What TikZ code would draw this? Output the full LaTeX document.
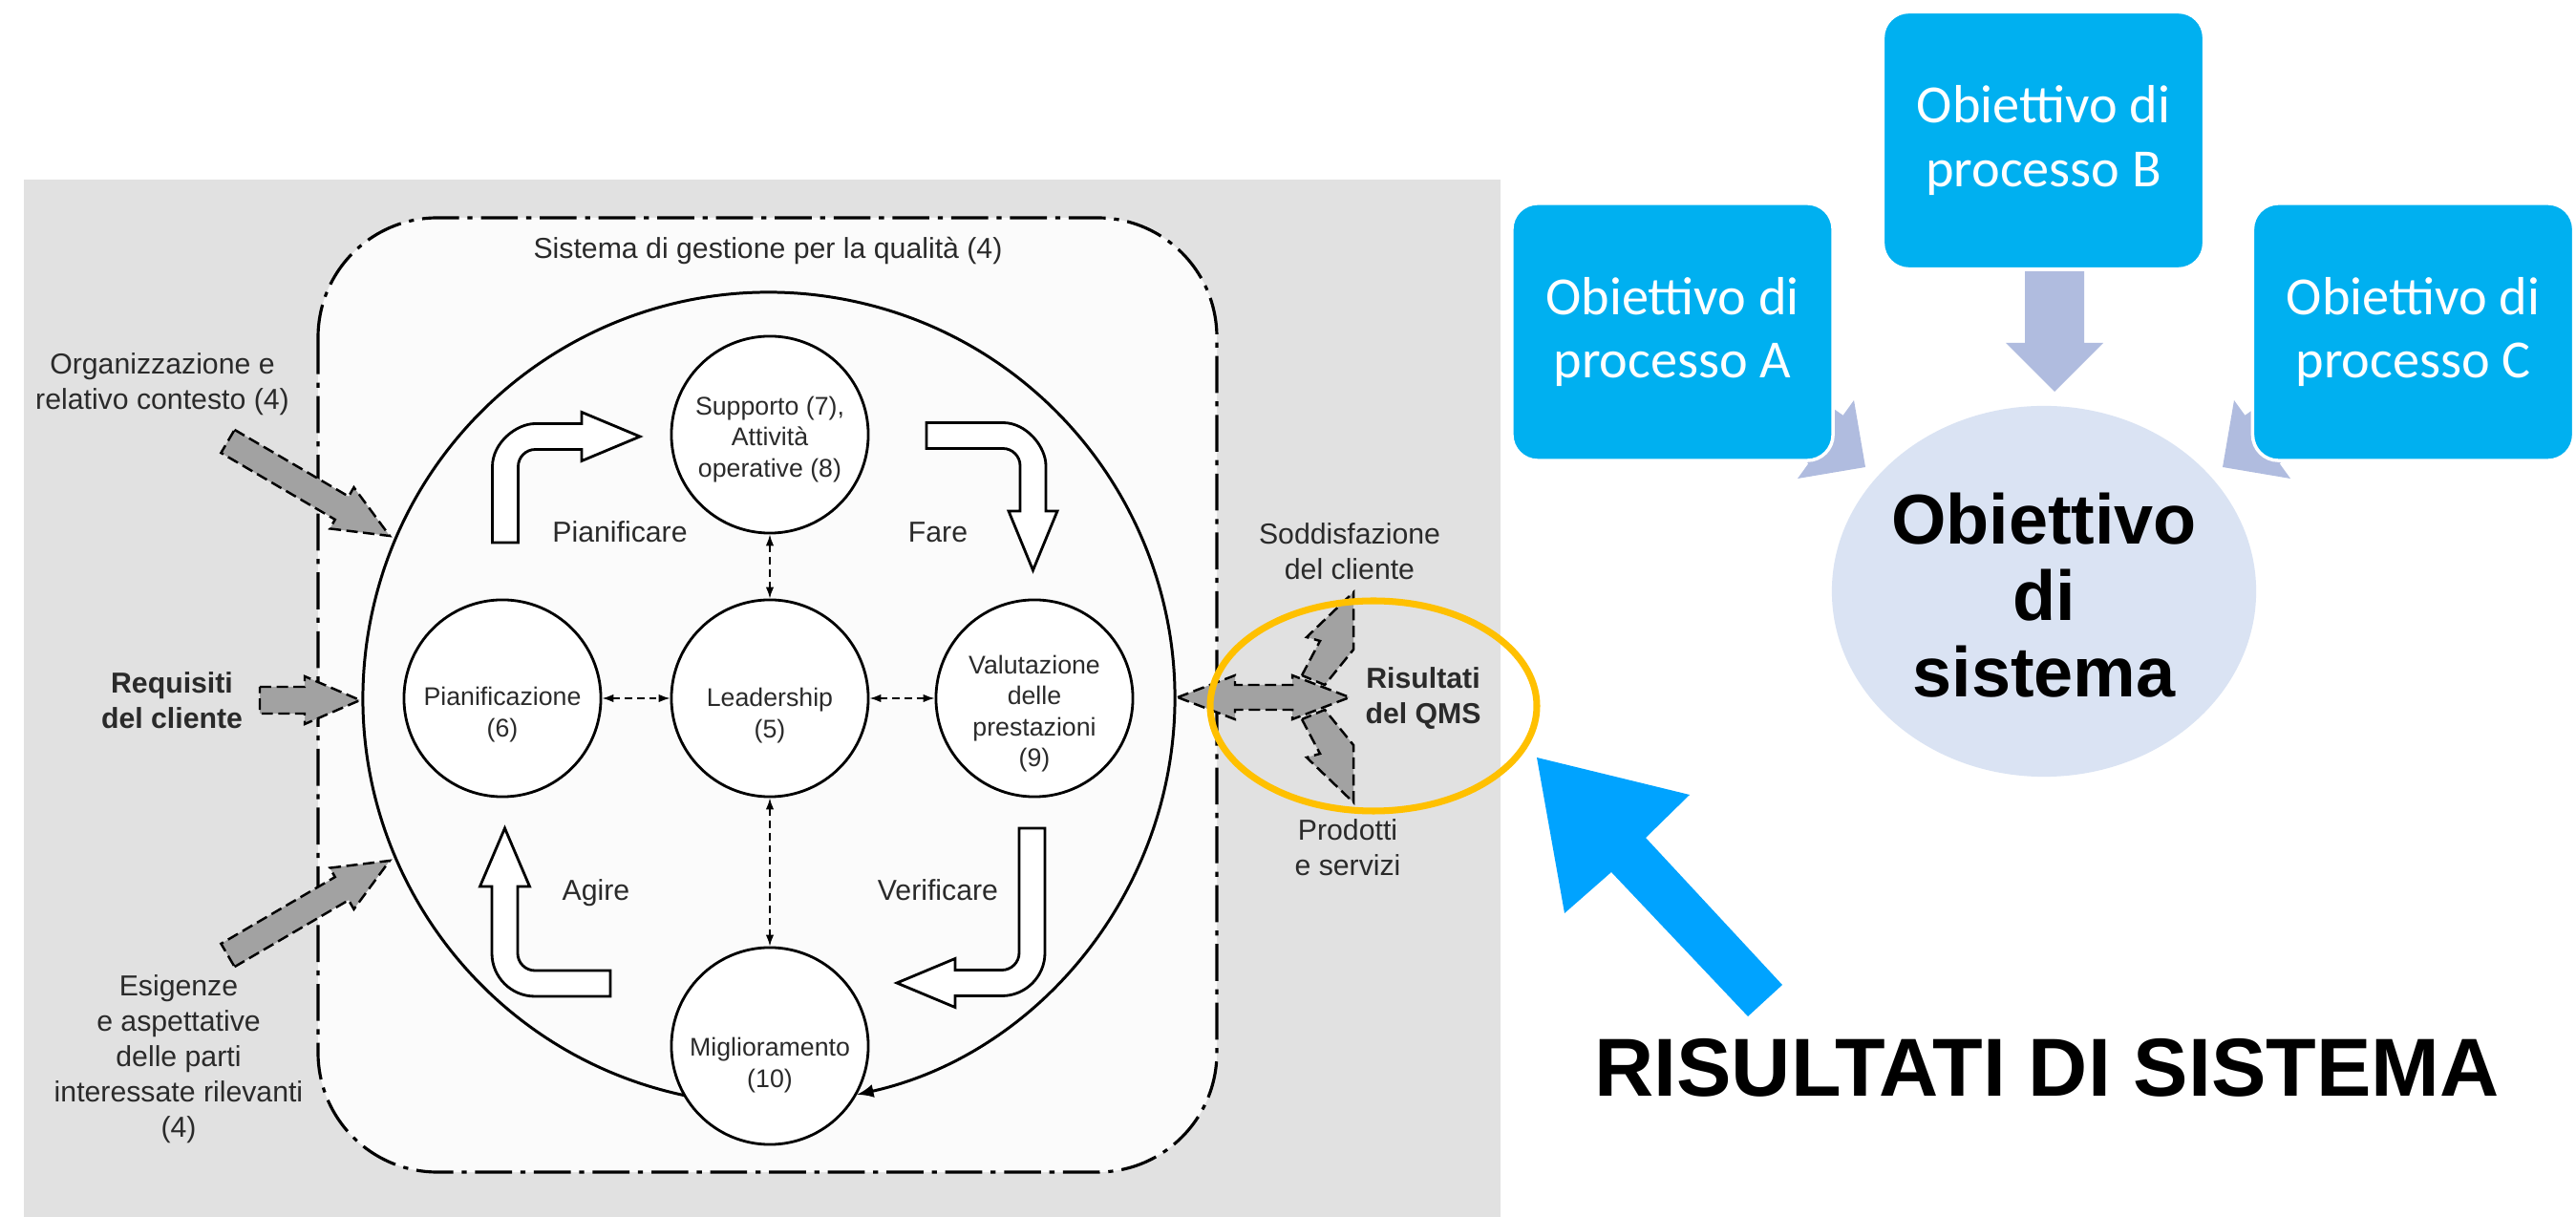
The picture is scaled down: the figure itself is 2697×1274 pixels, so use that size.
\documentclass[tikz,border=0pt]{standalone}
\usepackage{fontspec}
\setmainfont{Liberation Sans}
\newfontfamily\calib{Carlito}
\usetikzlibrary{shapes.geometric,arrows.meta,calc}
\definecolor{bggray}{HTML}{E1E1E1}
\definecolor{inwhite}{HTML}{FBFBFB}
\definecolor{arrgray}{HTML}{A2A2A2}
\definecolor{txt}{HTML}{2A2A2A}
\definecolor{gold}{HTML}{FFC000}
\definecolor{boxblue}{HTML}{00B0F0}
\definecolor{lav}{HTML}{B0BCDF}
\definecolor{lavlight}{HTML}{DAE3F3}
\definecolor{bigblue}{RGB}{0,163,255}
\begin{document}
\begin{tikzpicture}[x=0.01cm,y=-0.01cm,
  circ/.style={circle,draw=black,line width=0.8pt,fill=white,minimum size=2.06cm,inner sep=0pt},
  ctext/.style={align=center,font=\fontsize{7.6}{9.25}\selectfont,text=txt,inner sep=0pt},
  lbl/.style={align=center,font=\fontsize{8.6}{10.5}\selectfont,text=txt,inner sep=0pt},
  blbl/.style={align=center,font=\fontsize{8.6}{10.5}\selectfont\bfseries,text=txt,inner sep=0pt},
  bent/.style={draw=black,line width=0.8pt,fill=white,line join=miter},
  garrow/.style={draw=black,line width=0.7pt,dash pattern=on 3.4pt off 1.6pt,fill=arrgray,line join=miter},
  dconn/.style={{Latex[length=3.4pt,width=2.4pt]}-{Latex[length=3.4pt,width=2.4pt]},dash pattern=on 2.2pt off 1.4pt,line width=0.45pt},
  obox/.style={rounded corners=0.27cm,fill=boxblue,draw=white,line width=1pt,minimum width=3.36cm,minimum height=2.69cm,align=center,text=white,font=\calib\fontsize{16}{18.8}\selectfont,inner sep=0pt}
]
\useasboundingbox (0,0) rectangle (2697,1274);
% ---------------- left scanned diagram ----------------
\fill[bggray] (25,188) rectangle (1571,1274);
\draw[line width=0.9pt,dash pattern=on 11pt off 2.5pt on 1.5pt off 2.5pt,rounded corners=1.25cm,fill=inwhite] (333,228) rectangle (1274,1227);
\node[lbl] (title) at (804,263) {Sistema di gestione per la qualità (4)};
% big cycle circle
\draw[line width=0.85pt,-{Latex[length=5pt,width=4pt]}] ($(805,731)+(102:425)$) arc[start angle=102,end angle=437.5,radius=425];
% inner circles
\node[circ] (supp) at (806,455) {};
\node[circ] (pian) at (526,731) {};
\node[circ] (lead) at (806,731) {};
\node[circ] (valu) at (1083,731) {};
\node[circ] (migl) at (806,1095) {};
\node[ctext] (suppt) at (806,460) {Supporto (7),\\Attività\\operative (8)};
\node[ctext] (piant) at (526,748) {Pianificazione\\(6)};
\node[ctext] (leadt) at (806,749) {Leadership\\(5)};
\node[ctext] (valut) at (1083,747) {Valutazione\\delle\\prestazioni\\(9)};
\node[ctext] (miglt) at (806,1115) {Miglioramento\\(10)};
% dashed connectors
\draw[dconn] (pian) -- (lead);
\draw[dconn] (lead) -- (valu);
\draw[dconn] (supp) -- (lead);
\draw[dconn] (lead) -- (migl);
% bent outline arrows
\draw[bent] (515.5,568) -- (515.5,488.5) .. controls (515.5,463.7) and (540.3,443.5) .. (560.5,443.5) -- (609,443.5) -- (609,431.5) -- (670,457) -- (609,482.5) -- (609,470.5) -- (560.5,470.5) .. controls (550.6,470.5) and (542.5,478.4) .. (542.5,488.5) -- (542.5,568) -- cycle;
\draw[bent] (970,442.5) -- (1050,442.5) .. controls (1074.8,442.5) and (1095,467.7) .. (1095,487.5) -- (1095,535) -- (1107,535) -- (1081.5,597) -- (1056,535) -- (1068,535) -- (1068,487.5) .. controls (1068,477.6) and (1059.9,469.5) .. (1050,469.5) -- (970,469.5) -- cycle;
\draw[bent] (515,928) -- (515,998) .. controls (515,1022.8) and (535.2,1043) .. (560,1043) -- (639,1043) -- (639,1016) -- (560,1016) .. controls (550.1,1016) and (542,1007.9) .. (542,998) -- (542,928) -- (554.5,928) -- (528.5,867) -- (502.5,928) -- cycle;
\draw[bent] (1094,867) -- (1094,997.5) .. controls (1094,1022.3) and (1073.8,1042.5) .. (1049,1042.5) -- (1000,1042.5) -- (1000,1054.5) -- (939,1029) -- (1000,1003.5) -- (1000,1015.5) -- (1049,1015.5) .. controls (1058.9,1015.5) and (1067,1007.4) .. (1067,997.5) -- (1067,867) -- cycle;
\node[lbl] (lpian) at (649,557) {Pianificare};
\node[lbl] (lfare) at (982,557) {Fare};
\node[lbl] (lagire) at (624,935) {Agire};
\node[lbl] (lverif) at (982,932) {Verificare};
% left inputs
\draw[garrow] (245.6,449.9) -- (365.0,519.7) -- (370.5,510.2) -- (408,561) -- (345.3,553.4) -- (350.8,543.9) -- (231.4,474.1) -- cycle;
\draw[garrow] (272,719) -- (319,719) -- (319,708) -- (377,733) -- (319,758) -- (319,747) -- (272,747) -- cycle;
\draw[garrow] (245.6,1012.1) -- (365.0,942.3) -- (370.5,951.8) -- (408,901) -- (345.3,908.6) -- (350.8,918.1) -- (231.4,987.9) -- cycle;
\node[lbl] (org) at (170,402) {Organizzazione e\\relativo contesto (4)};
\node[blbl] (req) at (180,733) {Requisiti\\del cliente};
\node[lbl] (esi) at (187,1109) {Esigenze\\e aspettative\\delle parti\\interessate rilevanti\\(4)};
% right outputs
\draw[garrow] (1363,707) -- (1382,671) -- (1368,667) -- (1417,620) -- (1417,680) -- (1387,717) -- cycle;
\draw[garrow] (1363,753) -- (1382,789) -- (1368,793) -- (1417,840) -- (1417,780) -- (1387,743) -- cycle;
\draw[garrow] (1233,730) -- (1293,707) -- (1293,717) -- (1353,717) -- (1353,707) -- (1413,730) -- (1353,753) -- (1353,743) -- (1293,743) -- (1293,753) -- cycle;
\node[lbl] (sodd) at (1413,577) {Soddisfazione\\del cliente};
\node[blbl] (ris) at (1490,731) {Risultati\\del QMS};
\node[lbl] (prod) at (1411,887) {Prodotti\\e servizi};
\draw[gold,line width=2pt] (1438,739) ellipse[x radius=171,y radius=110];
% ---------------- right part ----------------
\fill[lav] (1770.4,399.2) -- (1806.6,348.8) -- (1929.6,434.8) -- (1941,419) -- (1953,489) -- (1882,501) -- (1893.4,485.2) -- cycle;
\fill[lav] (2509.6,399.2) -- (2473.4,348.8) -- (2350.4,434.8) -- (2339,419) -- (2327,489) -- (2398,501) -- (2386.6,485.2) -- cycle;
\fill[lav] (2120,284) -- (2182,284) -- (2182,359) -- (2202,359) -- (2151,410) -- (2100,359) -- (2120,359) -- cycle;
\node[obox] (bA) at (1751,347.5) {Obiettivo di\\processo A};
\node[obox] (bB) at (2139.5,147) {Obiettivo di\\processo B};
\node[obox] (bC) at (2526.5,347.5) {Obiettivo di\\processo C};
\node[ellipse,fill=lavlight,minimum width=4.44cm,minimum height=3.88cm,inner sep=0pt] (obs) at (2140,619) {};
\node[align=center,inner sep=0pt,font=\bfseries\fontsize{21}{22.8}\selectfont] (obst) at (2140,623) {Obiettivo\\di\\sistema};
\fill[bigblue] (1609,793) -- (1769,832) -- (1723,877) -- (1866,1031) -- (1830,1064) -- (1687,913) -- (1638,956) -- cycle;
\node[inner sep=0pt,font=\bfseries\fontsize{24.5}{28}\selectfont] (risul) at (2143,1118) {RISULTATI DI SISTEMA};
\end{tikzpicture}
\end{document}
